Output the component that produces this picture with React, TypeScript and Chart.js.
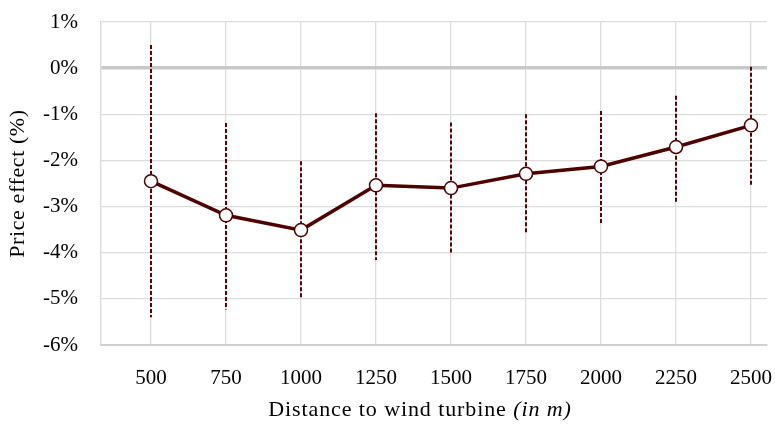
import React, { useEffect, useRef } from "react";
import { Chart, registerables } from "chart.js";

Chart.register(...registerables);

const distances = [500, 750, 1000, 1250, 1500, 1750, 2000, 2250, 2500];
const effect = [-2.45, -3.19, -3.51, -2.54, -2.6, -2.29, -2.13, -1.71, -1.24];
const ciHigh = [0.5, -1.19, -2.02, -0.98, -1.18, -1.0, -0.93, -0.6, 0.03];
const ciLow = [-5.4, -5.23, -5.01, -4.16, -4.02, -3.58, -3.37, -2.9, -2.55];
const yTicks = [1, 0, -1, -2, -3, -4, -5, -6];
const xTitleMain = "Distance to wind turbine ";
const xTitleItalic = "(in m)";
const yTitle = "Price effect (%)";

const MAROON = "#4f0000";
const FONT = "'Liberation Serif', serif";

const errorBars = {
  id: "errorBars",
  beforeDatasetsDraw(chart: any) {
    const { ctx, scales } = chart;
    const xs = scales.x;
    const ys = scales.y;
    ctx.save();
    ctx.strokeStyle = "#5a0505";
    ctx.lineWidth = 2;
    ctx.setLineDash([4, 2]);
    distances.forEach((d, i) => {
      const x = Math.round(xs.getPixelForValue(d));
      ctx.beginPath();
      ctx.moveTo(x, ys.getPixelForValue(ciHigh[i]));
      ctx.lineTo(x, ys.getPixelForValue(ciLow[i]));
      ctx.stroke();
    });
    ctx.restore();
  },
};

const axisTitles = {
  id: "axisTitles",
  afterDraw(chart: any) {
    const { ctx, chartArea } = chart;
    ctx.save();
    ctx.fillStyle = "#000";
    ctx.textBaseline = "middle";
    (ctx as any).letterSpacing = "0.9px";
    ctx.font = `22px ${FONT}`;
    const w1 = ctx.measureText(xTitleMain).width;
    ctx.font = `italic 22px ${FONT}`;
    const w2 = ctx.measureText(xTitleItalic).width;
    const cx = (chartArea.left + chartArea.right) / 2 - 14;
    const startX = cx - (w1 + w2) / 2;
    ctx.textAlign = "left";
    ctx.font = `22px ${FONT}`;
    ctx.fillText(xTitleMain, startX, 410);
    ctx.font = `italic 22px ${FONT}`;
    ctx.fillText(xTitleItalic, startX + w1, 410);
    (ctx as any).letterSpacing = "0.6px";
    ctx.font = `22px ${FONT}`;
    ctx.translate(18, (chartArea.top + chartArea.bottom) / 2);
    ctx.rotate(-Math.PI / 2);
    ctx.textAlign = "center";
    ctx.fillText(yTitle, 0, 0);
    ctx.restore();
  },
};

export default function App() {
  const ref = useRef<HTMLCanvasElement>(null);
  useEffect(() => {
    document.body.style.margin = "0";
    const chart = new Chart(ref.current!, {
      type: "line",
      data: {
        datasets: [
          {
            data: distances.map((d, i) => ({ x: d, y: effect[i] })),
            borderColor: MAROON,
            borderWidth: 3.5,
            pointRadius: 6.5,
            pointBackgroundColor: "#ffffff",
            pointBorderColor: MAROON,
            pointBorderWidth: 1.5,
            tension: 0,
          },
        ],
      },
      options: {
        animation: false,
        responsive: false,
        layout: { padding: { top: 22, right: 8, left: 0, bottom: 0 } },
        plugins: { legend: { display: false }, tooltip: { enabled: false } },
        scales: {
          x: {
            type: "linear",
            min: 333.33,
            max: 2553.33,
            afterBuildTicks: (s: any) => {
              s.ticks = distances.map((v) => ({ value: v }));
            },
            afterFit: (s: any) => {
              s.height = 79;
              s.paddingLeft = 0;
              s.paddingRight = 0;
            },
            grid: { color: "#dcdcdc", lineWidth: 1.3, drawTicks: false },
            border: { color: "#d0d0d0", width: 2 },
            ticks: {
              padding: 21,
              color: "#000",
              font: { family: FONT, size: 21 },
              callback: (v: any) => String(v),
              autoSkip: false,
              maxRotation: 0,
            },
          },
          y: {
            min: -6,
            max: 1,
            afterBuildTicks: (s: any) => {
              s.ticks = yTicks.map((v) => ({ value: v }));
            },
            afterFit: (s: any) => {
              s.width = 101;
              s.paddingTop = 0;
              s.paddingBottom = 0;
            },
            grid: {
              drawTicks: false,
              color: (c: any) => (c.tick && c.tick.value === 0 ? "#c8c8c8" : "#dcdcdc"),
              lineWidth: (c: any) => (c.tick && c.tick.value === 0 ? 3.5 : 1.3),
            },
            border: { color: "#d9d9d9", width: 1.3 },
            ticks: {
              padding: 23,
              color: "#000",
              font: { family: FONT, size: 21 },
              callback: (v: any) => `${v}%`,
            },
          },
        },
      },
      plugins: [errorBars, axisTitles],
    });
    return () => chart.destroy();
  }, []);
  return (
    <div style={{ position: "absolute", left: 0, top: 0, width: 775, height: 424 }}>
      <canvas ref={ref} width={775} height={424} style={{ width: 775, height: 424 }} />
    </div>
  );
}
